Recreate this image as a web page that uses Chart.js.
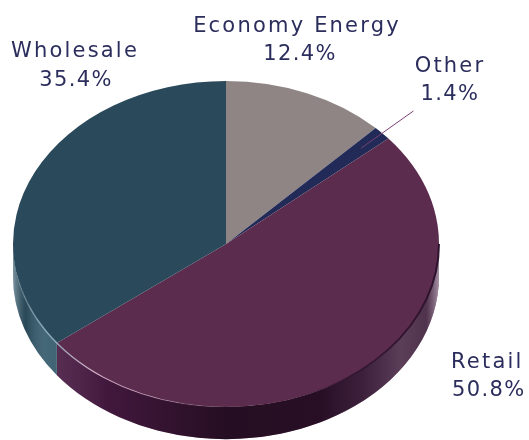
<!DOCTYPE html>
<html><head><meta charset="utf-8">
<style>html,body{margin:0;padding:0;background:#fff}#wrap{width:529px;height:440px}canvas{display:block}</style>
<script src="https://cdn.jsdelivr.net/npm/chart.js@4"></script>
</head><body><div id="wrap"><canvas id="c" width="529" height="440"></canvas></div>
<script>
const categories = ['Economy Energy', 'Other', 'Retail', 'Wholesale'];
const shares = [12.4, 1.4, 50.8, 35.4];
const faceColors = ['#8f8585', '#222b58', '#5c2c4e', '#2a4a5c'];
const wallColors = ['#5f5858', '#1a2045', '#471a42', '#2f5668'];
const nameAnchors = [[297, 32, 'center'], [450, 72, 'center'], [451, 368, 'left'], [75, 57, 'center']];
const valueAnchors = [[300, 60, 'center'], [450, 100, 'center'], [452, 396, 'left'], [76, 86, 'center']];
const TILT = 163 / 213, CENTER_Y = 244, DEPTH = 42;

const tilt = (ctx, chart) => {
  const c = chart.getDatasetMeta(0).data[0];
  ctx.translate(0, CENTER_Y);
  ctx.scale(1, TILT);
  ctx.translate(0, -c.y);
};

const pie3d = {
  id: 'pie3d',
  beforeDatasetsDraw(chart) {
    const ctx = chart.ctx, arcs = chart.getDatasetMeta(0).data;
    const {x, y, outerRadius: R} = arcs[0];
    ctx.save();
    tilt(ctx, chart);
    arcs.forEach((a, i) => {
      const lo = Math.max(a.startAngle, 0), hi = Math.min(a.endAngle, Math.PI);
      if (hi <= lo) return;
      ctx.beginPath();
      ctx.arc(x, y, R, lo, hi);
      ctx.arc(x, y + DEPTH, R, hi, lo, true);
      ctx.closePath();
      ctx.fillStyle = wallColors[i];
      ctx.fill();
    });
    ctx.beginPath();
    ctx.arc(x, y, R, 0, Math.PI);
    ctx.arc(x, y + DEPTH, R, Math.PI, 0, true);
    ctx.closePath();
    const g = ctx.createLinearGradient(x - R, 0, x + R, 0);
    g.addColorStop(0, 'rgba(220,225,230,0.45)');
    g.addColorStop(0.03, 'rgba(20,30,40,0.25)');
    g.addColorStop(0.08, 'rgba(255,255,255,0.10)');
    g.addColorStop(0.14, 'rgba(255,255,255,0.06)');
    g.addColorStop(0.22, 'rgba(0,0,0,0.08)');
    g.addColorStop(0.5, 'rgba(0,0,0,0.48)');
    g.addColorStop(0.72, 'rgba(0,0,0,0.45)');
    g.addColorStop(0.82, 'rgba(45,40,50,0.4)');
    g.addColorStop(0.91, 'rgba(115,105,115,0.45)');
    g.addColorStop(0.97, 'rgba(90,80,90,0.45)');
    g.addColorStop(1, 'rgba(230,225,230,0.6)');
    ctx.fillStyle = g;
    ctx.fill();
    ctx.restore();
    ctx.save();
    tilt(ctx, chart);
  },
  afterDatasetsDraw(chart) {
    const ctx = chart.ctx, arcs = chart.getDatasetMeta(0).data;
    const {x, y, outerRadius: R} = arcs[0];
    ctx.beginPath();
    ctx.arc(x, y, R, Math.PI * 0.45, Math.PI * 0.94);
    const g = ctx.createLinearGradient(x - R, 0, x, 0);
    g.addColorStop(0, 'rgba(190,200,210,0)');
    g.addColorStop(0.15, 'rgba(150,190,205,0.8)');
    g.addColorStop(0.4, 'rgba(225,180,205,0.85)');
    g.addColorStop(0.75, 'rgba(200,150,180,0.3)');
    g.addColorStop(1, 'rgba(200,150,180,0)');
    ctx.strokeStyle = g;
    ctx.lineWidth = 1.4;
    ctx.stroke();
    // dark crease along the lower right edge of the top face, fading toward the bottom
    ctx.beginPath();
    ctx.arc(x, y, R, 0, Math.PI * 0.45);
    const d = ctx.createLinearGradient(x + R, 0, x + R * 0.3, 0);
    d.addColorStop(0, 'rgba(38,12,38,0.9)');
    d.addColorStop(0.6, 'rgba(38,12,38,0.75)');
    d.addColorStop(1, 'rgba(38,12,38,0)');
    ctx.strokeStyle = d;
    ctx.lineWidth = 2;
    ctx.stroke();
    ctx.restore();

    const o = arcs[1], mid = (o.startAngle + o.endAngle) / 2;
    const px = r => x + r * R * Math.cos(mid);
    const py = r => CENTER_Y + r * R * Math.sin(mid) * TILT;
    ctx.save();
    ctx.beginPath();
    ctx.moveTo(px(0.865), py(0.865));
    ctx.lineTo(px(1.2), py(1.2));
    ctx.strokeStyle = '#7b3f74';
    ctx.lineWidth = 1;
    ctx.stroke();
    ctx.font = '21px "DejaVu Sans"';
    ctx.fillStyle = '#2b2d5c';
    ctx.textBaseline = 'alphabetic';
    categories.forEach((name, i) => {
      ctx.letterSpacing = '2.2px';
      ctx.textAlign = nameAnchors[i][2];
      ctx.fillText(name, nameAnchors[i][0], nameAnchors[i][1]);
      ctx.letterSpacing = '1.4px';
      ctx.textAlign = valueAnchors[i][2];
      ctx.fillText(shares[i].toFixed(1) + '%', valueAnchors[i][0], valueAnchors[i][1]);
    });
    ctx.restore();
  }
};

new Chart(document.getElementById('c'), {
  type: 'pie',
  data: {
    labels: categories,
    datasets: [{data: shares, backgroundColor: faceColors, borderWidth: 0}]
  },
  options: {
    responsive: false,
    animation: false,
    layout: {padding: {left: 13, right: 90, top: 7, bottom: 7}},
    plugins: {legend: {display: false}, tooltip: {enabled: false}}
  },
  plugins: [pie3d]
});
</script></body></html>
